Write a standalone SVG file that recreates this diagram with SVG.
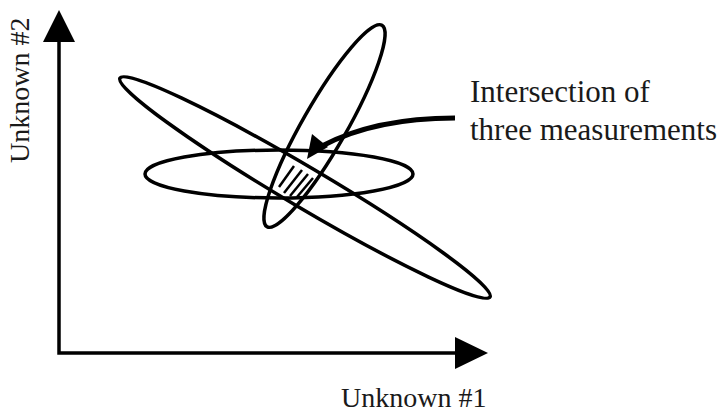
<svg xmlns="http://www.w3.org/2000/svg" width="728" height="414" viewBox="0 0 728 414">
<style>
.ell{fill:none;stroke:#000;stroke-width:3.5}
.ax{fill:none;stroke:#000;stroke-width:3.5}
.hatch{stroke:#000;stroke-width:2.5}
.lbl{font-family:"Liberation Serif",serif;fill:#1a1a1a}
</style>
<g id="axes">
<polyline class="ax" points="59,40 59,353 457,353"/>
<polygon points="59,10 43,42 75,42" fill="#000"/>
<polygon points="488,353 455,337 455,369" fill="#000"/>
</g>
<g id="ellipse-horizontal"><ellipse class="ell" cx="279" cy="174" rx="134" ry="24"/></g>
<g id="ellipse-diagonal"><ellipse class="ell" cx="305" cy="187.5" rx="215" ry="20" transform="rotate(30.6 305 187.5)"/></g>
<g id="ellipse-tall"><ellipse class="ell" cx="324.5" cy="126" rx="116" ry="22" transform="rotate(-60.3 324.5 126)"/></g>
<g id="intersection">
<line class="hatch" x1="279" y1="187" x2="294" y2="166"/>
<line class="hatch" x1="284" y1="193" x2="302" y2="170"/>
<line class="hatch" x1="290" y1="196" x2="308" y2="174"/>
<line class="hatch" x1="297" y1="197" x2="313" y2="178"/>
</g>
<g id="connectors">
<path d="M455,118 Q375,118 322,146" fill="none" stroke="#000" stroke-width="5"/>
<polygon points="307,159 312,134 328,147" fill="#000"/>
</g>
<g id="labels">
<text class="lbl" x="470" y="102" font-size="31">Intersection of</text>
<text class="lbl" x="470" y="140" font-size="31">three measurements</text>
<text class="lbl" x="341" y="407" font-size="28">Unknown #1</text>
<text class="lbl" transform="translate(29,163) rotate(-90)" font-size="28">Unknown #2</text>
</g>
</svg>
